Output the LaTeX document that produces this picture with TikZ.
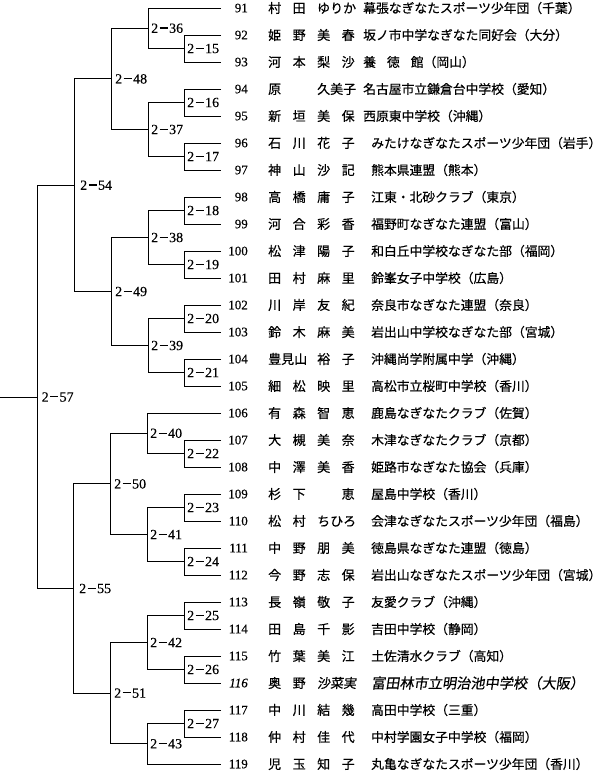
\documentclass[tikz,border=0pt]{standalone}
\usepackage{fontspec}
\setmainfont[FakeBold=0.3]{Liberation Serif}
\newfontfamily\jp[FakeBold=0.4]{Noto Sans CJK JP}
\newfontfamily\jpsl[FakeSlant=0.15,FakeBold=0.4]{Noto Sans CJK JP}
\newcommand\dsh{\kern0.1em\rule[0.3em]{0.58em}{0.08em}\kern0.1em}
\newcommand\nm[4]{\makebox[24.5pt][l]{#1}\makebox[24.5pt][l]{#2}\makebox[24.5pt][l]{#3}\makebox[24.5pt][l]{#4}}
\newcommand\pl[5]{\coordinate (p#1) at (221,#2);
  \node[num] (n#1) at (248,#2) {#1};
  \node[nam] (a#1) at (268,#2) {#3};
  \node[inst] (b#1) at (#4,#2) {#5};}
\newcommand\mt[4]{\coordinate (m#1) at (#2,#3);
  \node[lab] (l#1) at (#2+#4,#3) {2\dsh#1};}
\newcommand\br[3]{\draw[ln] (#2) -- (#2 -| #1) -- (#3 -| #1) -- (#3);}
\begin{document}
\begin{tikzpicture}[x=1pt,y=-1pt,
  num/.style={anchor=east,inner sep=0pt,font=\fontsize{13}{13}\selectfont},
  nam/.style={anchor=west,inner sep=0pt,font=\jp\fontsize{13}{13}\selectfont},
  inst/.style={anchor=west,inner sep=0pt,font=\jp\fontsize{12.8}{13}\selectfont},
  lab/.style={anchor=west,inner sep=0pt,font=\fontsize{14}{14}\selectfont},
  ln/.style={line width=0.9pt}]
\fill[white] (0,0) rectangle (600,777);
\useasboundingbox (0,0) rectangle (600,777);
% players
\pl{91}{8}{\nm{村}{田}{ゆりか}{}}{363}{幕張なぎなたスポーツ少年団（千葉）}
\pl{92}{35}{\nm{姫}{野}{美}{春}}{363}{坂ノ市中学なぎなた同好会（大分）}
\pl{93}{62}{\nm{河}{本}{梨}{沙}}{363}{養\hspace{11pt}徳\hspace{11pt}館（岡山）}
\pl{94}{89}{\nm{原}{}{久美子}{}}{363}{名古屋市立鎌倉台中学校（愛知）}
\pl{95}{116}{\nm{新}{垣}{美}{保}}{363}{西原東中学校（沖縄）}
\pl{96}{143}{\nm{石}{川}{花}{子}}{371}{みたけなぎなたスポーツ少年団（岩手）}
\pl{97}{170}{\nm{神}{山}{沙}{記}}{371}{熊本県連盟（熊本）}
\pl{98}{197}{\nm{高}{橋}{庸}{子}}{371}{江東・北砂クラブ（東京）}
\pl{99}{224}{\nm{河}{合}{彩}{香}}{371}{福野町なぎなた連盟（富山）}
\pl{100}{251}{\nm{松}{津}{陽}{子}}{371}{和白丘中学校なぎなた部（福岡）}
\pl{101}{278}{\nm{田}{村}{麻}{里}}{371}{鈴峯女子中学校（広島）}
\pl{102}{305}{\nm{川}{岸}{友}{紀}}{371}{奈良市なぎなた連盟（奈良）}
\pl{103}{332}{\nm{鈴}{木}{麻}{美}}{371}{岩出山中学校なぎなた部（宮城）}
\pl{104}{359}{\nm{豊見山}{}{裕}{子}}{371}{沖縄尚学附属中学（沖縄）}
\pl{105}{386}{\nm{細}{松}{映}{里}}{371}{高松市立桜町中学校（香川）}
\pl{106}{413}{\nm{有}{森}{智}{恵}}{371}{鹿島なぎなたクラブ（佐賀）}
\pl{107}{440}{\nm{大}{槻}{美}{奈}}{371}{木津なぎなたクラブ（京都）}
\pl{108}{467}{\nm{中}{澤}{美}{香}}{371}{姫路市なぎなた協会（兵庫）}
\pl{109}{494}{\nm{杉}{下}{}{恵}}{371}{屋島中学校（香川）}
\pl{110}{521}{\nm{松}{村}{ちひろ}{}}{371}{会津なぎなたスポーツ少年団（福島）}
\pl{111}{548}{\nm{中}{野}{朋}{美}}{371}{徳島県なぎなた連盟（徳島）}
\pl{112}{575}{\nm{今}{野}{志}{保}}{371}{岩出山なぎなたスポーツ少年団（宮城）}
\pl{113}{602}{\nm{長}{嶺}{敬}{子}}{371}{友愛クラブ（沖縄）}
\pl{114}{629}{\nm{田}{島}{千}{影}}{371}{吉田中学校（静岡）}
\pl{115}{656}{\nm{竹}{葉}{美}{江}}{371}{土佐清水クラブ（高知）}
\coordinate (p116) at (221,683);
\node[num,font=\itshape\fontsize{13}{13}\selectfont] (n116) at (248,683) {116};
\node[nam] (a116) at (268,683) {\nm{奥}{野}{\jpsl 沙菜実}{}};
\node[inst,font=\jpsl\fontsize{14.2}{14}\selectfont] (b116) at (371,683) {富田林市立明治池中学校（大阪）};
\pl{117}{710}{\nm{中}{川}{結}{幾}}{371}{高田中学校（三重）}
\pl{118}{737}{\nm{仲}{村}{佳}{代}}{371}{中村学園女子中学校（福岡）}
\pl{119}{764}{\nm{児}{玉}{知}{子}}{371}{丸亀なぎなたスポーツ少年団（香川）}
% matches
\mt{15}{184}{48.5}{3}
\mt{16}{184}{102.5}{3}
\mt{17}{184}{156.5}{3}
\mt{18}{184}{210.5}{3}
\mt{19}{184}{264.5}{3}
\mt{20}{184}{318.5}{3}
\mt{21}{184}{372.5}{3}
\mt{22}{184}{453.5}{3}
\mt{23}{184}{507.5}{3}
\mt{24}{184}{561.5}{3}
\mt{25}{184}{615.5}{3}
\mt{26}{184}{669.5}{3}
\mt{27}{184}{723.5}{3}
\mt{36}{148}{28.25}{3}
\mt{37}{148}{129.5}{3}
\mt{38}{148}{237.5}{3}
\mt{39}{148}{345.5}{3}
\mt{40}{147}{433.25}{3}
\mt{41}{147}{534.5}{3}
\mt{42}{147}{642.5}{3}
\mt{43}{147}{743.75}{3}
\mt{48}{111}{78.9}{4}
\mt{49}{111}{291.5}{4}
\mt{50}{110}{483.9}{4}
\mt{51}{110}{693.1}{4}
\mt{54}{74}{185.2}{6}
\mt{55}{73}{588.5}{6}
\mt{57}{37}{397}{4.5}
\coordinate (o57) at (0,397);
% brackets
\br{m15}{p92}{p93}
\br{m36}{p91}{m15}
\br{m16}{p94}{p95}
\br{m17}{p96}{p97}
\br{m37}{m16}{m17}
\br{m48}{m36}{m37}
\br{m18}{p98}{p99}
\br{m19}{p100}{p101}
\br{m38}{m18}{m19}
\br{m20}{p102}{p103}
\br{m21}{p104}{p105}
\br{m39}{m20}{m21}
\br{m49}{m38}{m39}
\br{m54}{m48}{m49}
\br{m22}{p107}{p108}
\br{m40}{p106}{m22}
\br{m23}{p109}{p110}
\br{m24}{p111}{p112}
\br{m41}{m23}{m24}
\br{m50}{m40}{m41}
\br{m25}{p113}{p114}
\br{m26}{p115}{p116}
\br{m42}{m25}{m26}
\br{m27}{p117}{p118}
\br{m43}{m27}{p119}
\br{m51}{m42}{m43}
\br{m55}{m50}{m51}
\br{m57}{m54}{m55}
\draw[ln] (m57) -- (o57);
\end{tikzpicture}
\end{document}
